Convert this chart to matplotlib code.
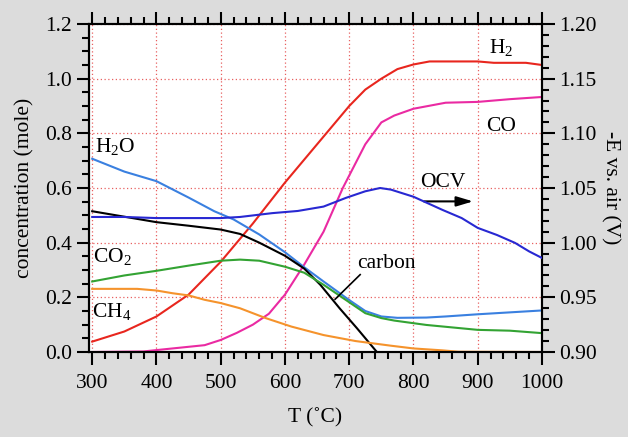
import matplotlib
matplotlib.use("Agg")
import matplotlib.pyplot as plt
from matplotlib.ticker import MultipleLocator

plt.rcParams['font.family'] = ['Liberation Serif', 'DejaVu Serif']
plt.rcParams['mathtext.fontset'] = 'custom'
plt.rcParams['mathtext.rm'] = 'Liberation Serif'
plt.rcParams['mathtext.it'] = 'Liberation Serif:italic'
plt.rcParams['mathtext.default'] = 'rm'

# ---- data ----
h2_T = [300, 350, 400, 450, 500, 550, 600, 650, 700, 725, 750, 775, 800, 825, 900, 925, 975, 1000]
h2_c = [0.038, 0.075, 0.13, 0.21, 0.33, 0.47, 0.62, 0.76, 0.90, 0.96, 1.00, 1.035, 1.052, 1.063, 1.063, 1.058, 1.058, 1.05]

co_T = [300, 380, 400, 475, 500, 525, 550, 575, 600, 630, 660, 690, 725, 750, 770, 800, 850, 900, 950, 1000]
co_c = [0.0, 0.002, 0.007, 0.025, 0.044, 0.07, 0.10, 0.14, 0.21, 0.32, 0.44, 0.60, 0.76, 0.84, 0.865, 0.89, 0.912, 0.915, 0.925, 0.933]

h2o_T = [300, 350, 400, 450, 490, 520, 560, 600, 630, 660, 700, 725, 750, 775, 820, 850, 900, 950, 1000]
h2o_c = [0.707, 0.66, 0.625, 0.565, 0.515, 0.485, 0.43, 0.365, 0.31, 0.258, 0.19, 0.15, 0.13, 0.125, 0.126, 0.13, 0.138, 0.145, 0.152]

carbon_T = [300, 350, 400, 450, 500, 530, 560, 600, 630, 655, 685, 712, 743]
carbon_c = [0.515, 0.495, 0.475, 0.462, 0.448, 0.432, 0.40, 0.352, 0.305, 0.246, 0.16, 0.087, 0.0]

co2_T = [300, 350, 400, 450, 475, 500, 530, 560, 600, 630, 660, 695, 725, 750, 770, 820, 900, 950, 1000]
co2_c = [0.258, 0.28, 0.297, 0.316, 0.325, 0.334, 0.338, 0.334, 0.312, 0.29, 0.246, 0.19, 0.142, 0.124, 0.115, 0.099, 0.081, 0.078, 0.069]

ch4_T = [300, 370, 400, 425, 450, 475, 500, 530, 570, 610, 660, 710, 765, 800, 845, 870, 1000]
ch4_c = [0.231, 0.231, 0.225, 0.215, 0.207, 0.191, 0.179, 0.16, 0.124, 0.093, 0.062, 0.04, 0.023, 0.013, 0.006, 0.001, 0.0]

ocv_T = [300, 350, 400, 500, 530, 580, 620, 660, 695, 725, 748, 765, 800, 845, 875, 900, 930, 958, 980, 1000]
ocv_E = [1.0235, 1.0235, 1.0225, 1.0225, 1.0235, 1.027, 1.029, 1.033, 1.041, 1.047, 1.050, 1.0485, 1.042, 1.030, 1.0225, 1.0135, 1.007, 0.9998, 0.992, 0.986]

xticks = [300, 400, 500, 600, 700, 800, 900, 1000]
yticks_left = [0.0, 0.2, 0.4, 0.6, 0.8, 1.0, 1.2]
yticks_right = [0.90, 0.95, 1.00, 1.05, 1.10, 1.15, 1.20]

# ---- figure ----
fig = plt.figure(figsize=(6.28, 4.37), dpi=100, facecolor='#dcdcdc')
ax = fig.add_axes([89/628, 1-352/437, (542-89)/628, (352-24)/437])
ax.set_facecolor('white')

lw = 1.5
ax.plot(h2_T, h2_c, color='#e8261e', lw=lw, zorder=3)
ax.plot(co_T, co_c, color='#ea2aa2', lw=lw, zorder=3)
ax.plot(h2o_T, h2o_c, color='#3a80e0', lw=lw, zorder=3)
ax.plot(carbon_T, carbon_c, color='black', lw=lw, zorder=3)
ax.plot(co2_T, co2_c, color='#33a333', lw=lw, zorder=3)
ax.plot(ch4_T, ch4_c, color='#f5932c', lw=lw, zorder=3)

ax.set_xlim(295, 1000)
ax.set_ylim(0, 1.2)
ax.set_xticks(xticks)
ax.set_yticks(yticks_left)
ax.set_yticklabels([f"{v:.1f}" for v in yticks_left])
ax.xaxis.set_minor_locator(MultipleLocator(20))
ax.yaxis.set_minor_locator(MultipleLocator(0.05))
ax.grid(True, which='major', color='#e86060', linestyle=(0, (1, 2)), lw=0.9, zorder=1)

fs = 15.5
for s in ax.spines.values():
    s.set_linewidth(1.5)
ax.tick_params(which='both', direction='out', top=True, labeltop=False, width=1.5, labelsize=fs)
ax.tick_params(which='major', length=9)
ax.tick_params(which='minor', length=5)
ax.tick_params(axis='x', which='major', pad=7)
ax.set_xlabel('T (˚C)', fontsize=fs, labelpad=11)
ax.set_ylabel('concentration (mole)', fontsize=fs, labelpad=7)

ax2 = ax.twinx()
ax2.plot(ocv_T, ocv_E, color='#2828d2', lw=lw, zorder=3)
ax2.set_ylim(0.90, 1.20)
ax2.set_yticks(yticks_right)
ax2.set_yticklabels([f"{v:.2f}" for v in yticks_right])
ax2.yaxis.set_minor_locator(MultipleLocator(0.01))
ax2.tick_params(which='both', direction='out', width=1.5, labelsize=fs)
ax2.tick_params(which='major', length=9)
ax2.tick_params(which='minor', length=5)
ax2.set_ylabel('-E vs. air (V)', fontsize=fs, rotation=-90, labelpad=16)
for s in ax2.spines.values():
    s.set_linewidth(1.5)

# ---- labels ----
ax.text(937, 1.115, 'H$_2$', fontsize=fs, ha='center', va='center')
ax.text(937, 0.824, 'CO', fontsize=fs, ha='center', va='center')
ax.text(846, 0.621, 'OCV', fontsize=fs, ha='center', va='center')
ax.annotate('', xy=(897, 0.551), xytext=(812, 0.551),
            arrowprops=dict(arrowstyle='-|>,head_length=1.0,head_width=0.3', color='black', lw=1.5))
ax.text(336, 0.753, 'H$_2$O', fontsize=fs, ha='center', va='center')
ax.text(332, 0.35, 'CO$_2$', fontsize=fs, ha='center', va='center')
ax.text(331, 0.148, 'CH$_4$', fontsize=fs, ha='center', va='center')
ax.text(758, 0.322, 'carbon', fontsize=fs, ha='center', va='center')
ax.plot([717, 678], [0.283, 0.193], color='black', lw=1.2, zorder=4)

fig.savefig('out.png', dpi=100, facecolor=fig.get_facecolor())
